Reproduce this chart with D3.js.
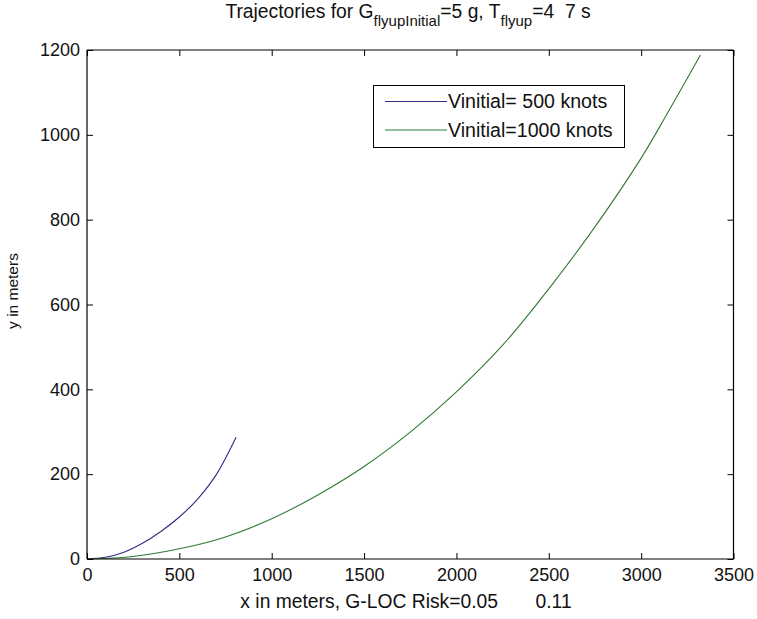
<!DOCTYPE html>
<html>
<head>
<meta charset="utf-8">
<script src="https://cdn.jsdelivr.net/npm/d3@7"></script>
<style>
  html, body { margin: 0; padding: 0; background: #fff; }
  svg { display: block; font-family: "Liberation Sans", Arial, sans-serif; }
</style>
</head>
<body>
<svg id="chart" width="757" height="619"></svg>
<script>
// Trajectory samples (x in meters, y in meters)
const slowX = [0, 100, 200, 300, 400, 500, 600, 700, 807];
const slowY = [0, 4, 16, 37, 65, 99, 142, 199, 287];

const fastX = [0, 250, 500, 750, 1000, 1250, 1500, 1750, 2000, 2250, 2500, 2750, 3000, 3150, 3321];
const fastY = [0, 6, 24, 52, 95, 151, 218, 299, 394, 504, 637, 783, 945, 1057, 1188];

const seriesNames = ["Vinitial= 500 knots", "Vinitial=1000 knots"];
const xTicks = [0, 500, 1000, 1500, 2000, 2500, 3000, 3500];
const yTicks = [0, 200, 400, 600, 800, 1000, 1200];

const margin = { left: 87, top: 50, right: 733.5, bottom: 559 };
const svg = d3.select("#chart");

const x = d3.scaleLinear().domain([0, 3500]).range([margin.left, margin.right]);
const y = d3.scaleLinear().domain([0, 1200]).range([margin.bottom, margin.top]);

const tickLen = 6;

// Plot box background
svg.append("rect")
  .attr("x", margin.left).attr("y", margin.top)
  .attr("width", margin.right - margin.left)
  .attr("height", margin.bottom - margin.top)
  .attr("fill", "#fff");

// Curves
const line = d3.line().x(d => x(d[0])).y(d => y(d[1])).curve(d3.curveCatmullRom.alpha(0.5));
const series = [
  { name: seriesNames[0], color: "#2e2e86", pts: d3.zip(slowX, slowY) },
  { name: seriesNames[1], color: "#2f7a34", pts: d3.zip(fastX, fastY) }
];
series.forEach(s => {
  svg.append("path")
    .attr("d", line(s.pts))
    .attr("fill", "none")
    .attr("stroke", s.color)
    .attr("stroke-width", 1.1);
});

// Axes with inward ticks on all four sides
const bottomAxis = d3.axisBottom(x).tickValues(xTicks).tickSize(-tickLen).tickPadding(9).tickFormat(d3.format("d"));
const topAxis = d3.axisTop(x).tickValues(xTicks).tickSize(-tickLen).tickFormat("");
const leftAxis = d3.axisLeft(y).tickValues(yTicks).tickSize(-tickLen).tickPadding(7).tickFormat(d3.format("d"));
const rightAxis = d3.axisRight(y).tickValues(yTicks).tickSize(-tickLen).tickFormat("");

function styleAxis(g) {
  g.select(".domain").attr("stroke", "#000").attr("stroke-width", 1.2);
  g.selectAll(".tick line").attr("stroke", "#000").attr("stroke-width", 1);
  g.selectAll(".tick text").attr("fill", "#111").style("font-size", "18px");
}

svg.append("g").attr("transform", `translate(0,${margin.bottom})`).call(bottomAxis).call(styleAxis)
  .call(g => g.select(".domain").attr("d", `M${margin.left},0H${margin.right}`));
svg.append("g").attr("transform", `translate(0,${margin.top})`).call(topAxis).call(styleAxis)
  .call(g => g.select(".domain").attr("d", `M${margin.left},0H${margin.right}`));
svg.append("g").attr("transform", `translate(${margin.left},0)`).call(leftAxis).call(styleAxis)
  .call(g => g.select(".domain").attr("d", `M0,${margin.top}V${margin.bottom}`));
svg.append("g").attr("transform", `translate(${margin.right},0)`).call(rightAxis).call(styleAxis)
  .call(g => g.select(".domain").attr("d", `M0,${margin.top}V${margin.bottom}`));

// Title with subscripts
const title = svg.append("text")
  .attr("x", 408)
  .attr("y", 18)
  .attr("text-anchor", "middle")
  .attr("fill", "#111")
  .style("font-size", "19.3px")
  .style("white-space", "pre");
title.append("tspan").text("Trajectories for G");
title.append("tspan").attr("dy", 8).style("font-size", "15px").text("flyupInitial");
title.append("tspan").attr("dy", -8).text("=5 g, T");
title.append("tspan").attr("dy", 8).style("font-size", "15px").text("flyup");
title.append("tspan").attr("dy", -8).text("=4  7 s");

// Axis labels
svg.append("text")
  .attr("x", 406).attr("y", 608)
  .attr("text-anchor", "middle")
  .attr("fill", "#111")
  .style("font-size", "19.3px")
  .style("white-space", "pre")
  .text("x in meters, G-LOC Risk=0.05       0.11");

svg.append("text")
  .attr("transform", "translate(18,291) rotate(-90)")
  .attr("text-anchor", "middle")
  .attr("fill", "#111")
  .style("font-size", "15.5px")
  .text("y in meters");

// Legend
const legend = svg.append("g");
legend.append("rect")
  .attr("x", 373.5).attr("y", 85.5)
  .attr("width", 251).attr("height", 62)
  .attr("fill", "#fff").attr("stroke", "#000").attr("stroke-width", 1);
series.forEach((s, i) => {
  const ly = 101.5 + i * 28.5;
  legend.append("line")
    .attr("x1", 385).attr("x2", 447)
    .attr("y1", ly).attr("y2", ly)
    .attr("stroke", s.color).attr("stroke-width", 1.1);
  legend.append("text")
    .attr("x", 448).attr("y", ly + 6.5)
    .attr("fill", "#111")
    .style("font-size", "19.6px")
    .text(s.name);
});
</script>
</body>
</html>
